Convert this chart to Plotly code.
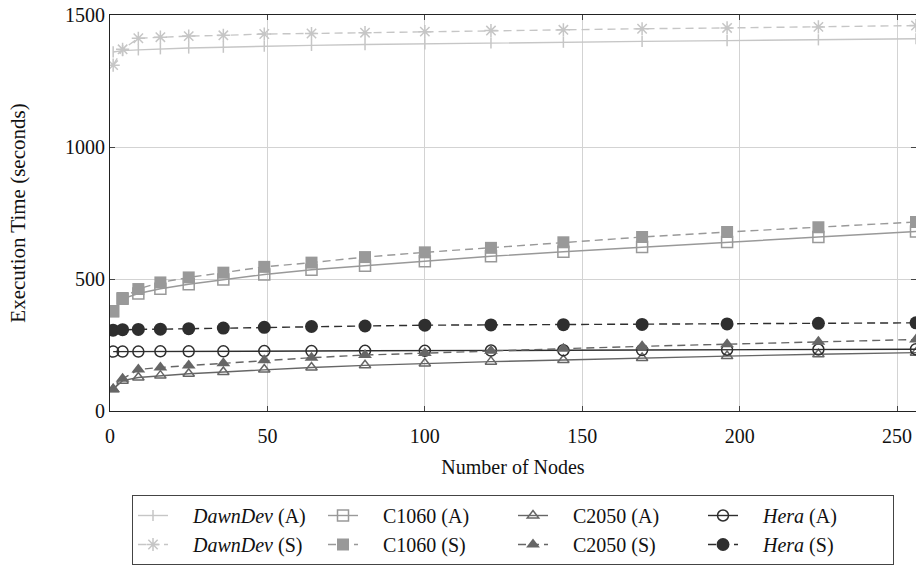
import plotly.graph_objects as go

nodes = [1, 4, 9, 16, 25, 36, 49, 64, 81, 100, 121, 144, 169, 196, 225, 256]

dawndev_a = [1360, 1365, 1368, 1372, 1375, 1378, 1382, 1385, 1388, 1391, 1394, 1397, 1400, 1403, 1406, 1410]
c1060_a = [378, 425, 445, 463, 480, 498, 517, 535, 550, 567, 586, 603, 621, 640, 659, 680]
c2050_a = [82, 115, 127, 134, 141, 148, 157, 165, 173, 180, 187, 193, 201, 208, 215, 221]
hera_a = [225, 225, 225, 226, 226, 226, 227, 227, 228, 228, 229, 230, 231, 232, 233, 234]

dawndev_s = [1310, 1370, 1412, 1416, 1420, 1423, 1428, 1430, 1433, 1437, 1441, 1444, 1448, 1451, 1455, 1460]
c1060_s = [378, 428, 462, 487, 506, 524, 546, 562, 583, 601, 618, 639, 659, 678, 696, 716]
c2050_s = [82, 122, 157, 165, 172, 181, 192, 202, 212, 220, 228, 236, 245, 253, 262, 271]
hera_s = [306, 308, 309, 310, 312, 314, 317, 320, 322, 325, 326, 327, 328, 330, 332, 334]

x_ticks = [0, 50, 100, 150, 200, 250]
y_ticks = [0, 500, 1000, 1500]

FONT = "Liberation Serif"
C_DAWN = "#c6c6c6"
C_1060 = "#999999"
C_2050 = "#666666"
C_HERA = "#2e2e2e"
DASH = "8px,5px"
PAD = "&nbsp;" * 4

series = [
    ("<i>DawnDev</i> (A)", dawndev_a, C_DAWN, "solid", "line-ns", 8, 1.5),
    ("C1060 (A)", c1060_a, C_1060, "solid", "square-open", 11, 1.5),
    ("C2050 (A)", c2050_a, C_2050, "solid", "triangle-up-open", 10, 1.5),
    ("<i>Hera</i> (A)", hera_a, C_HERA, "solid", "circle-open", 11, 1.5),
    ("<i>DawnDev</i> (S)", dawndev_s, C_DAWN, DASH, "asterisk-open", 11, 1.5),
    ("C1060 (S)", c1060_s, C_1060, DASH, "square", 12, 0),
    ("C2050 (S)", c2050_s, C_2050, DASH, "triangle-up", 12, 0),
    ("<i>Hera</i> (S)", hera_s, C_HERA, DASH, "circle", 13, 0),
]

fig = go.Figure()
for name, ys, col, dash, sym, size, mlw in series:
    fig.add_trace(go.Scatter(
        x=nodes, y=ys, name=PAD + name, mode="lines+markers",
        line=dict(color=col, width=1.4, dash=dash),
        marker=dict(symbol=sym, size=size, color=col,
                    line=dict(color=col, width=mlw if mlw else 0)),
    ))

axis_common = dict(
    showgrid=True, gridcolor="#d3d3d3", gridwidth=1,
    showline=True, linecolor="#222222", linewidth=1.2, mirror="ticks",
    ticks="inside", ticklen=5, tickcolor="#444444",
    tickfont=dict(family=FONT, size=20, color="#111111"),
    zeroline=False,
)

fig.update_xaxes(range=[0, 256], tickvals=x_ticks, ticklabelstandoff=7,
                 title=dict(text="Number of Nodes", font=dict(family=FONT, size=20, color="#111111"), standoff=13),
                 **axis_common)
fig.update_yaxes(range=[0, 1500], tickvals=y_ticks,
                 title=dict(text="Execution Time (seconds)", font=dict(family=FONT, size=21, color="#111111"), standoff=33),
                 **axis_common)

fig.update_layout(
    width=916, height=565,
    margin=dict(l=110, r=0, t=15, b=153),
    plot_bgcolor="white", paper_bgcolor="white",
    font=dict(family=FONT, size=20, color="#111111"),
    legend=dict(orientation="h", x=0.5, xanchor="center", y=-0.2125, yanchor="top",
                bordercolor="#444444", borderwidth=1, entrywidth=145,
                font=dict(family=FONT, size=20, color="#111111"),
                bgcolor="white"),
)

fig.write_html("out.html")
